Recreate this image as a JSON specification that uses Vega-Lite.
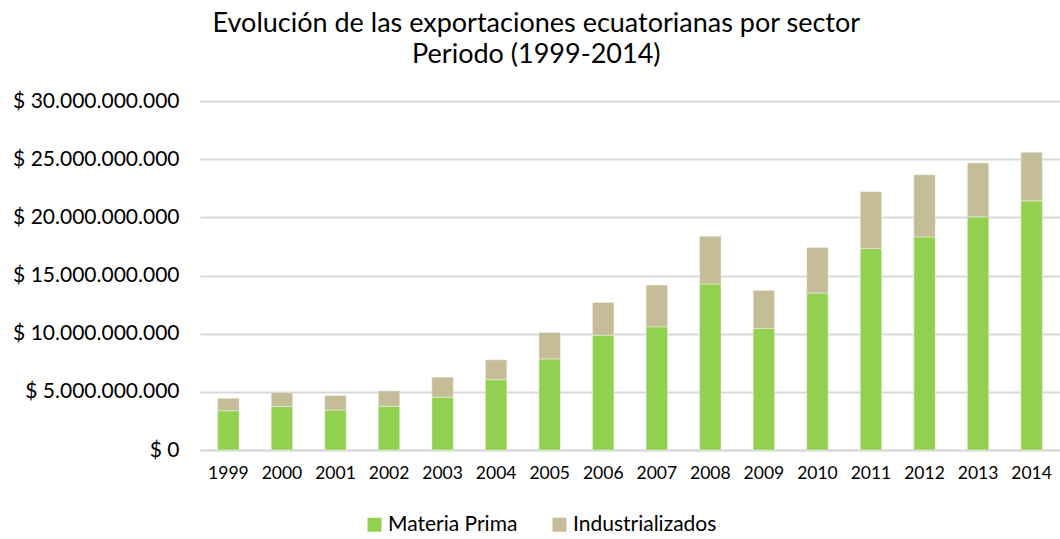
{
  "$schema": "https://vega.github.io/schema/vega-lite/v6.json",
  "width": 860,
  "height": 349,
  "autosize": {"type": "none"},
  "padding": {"left": 200, "right": 0, "top": 101, "bottom": 89},
  "background": "white",
  "config": {
    "font": "Lato",
    "view": {"stroke": null},
    "locale": {"number": {"decimal": ",", "thousands": ".", "grouping": [3], "currency": ["$ ", ""]}}
  },
  "title": {
    "text": ["Evolución de las exportaciones ecuatorianas por sector", "Periodo (1999-2014)"],
    "fontSize": 27,
    "fontWeight": "normal",
    "color": "#000000",
    "anchor": "middle",
    "frame": "bounds",
    "lineHeight": 31,
    "offset": 21
  },
  "data": {
    "values": [
      {"anio": "1999", "sector": "Materia Prima", "valor": 3380000000},
      {"anio": "1999", "sector": "Industrializados", "valor": 1070000000},
      {"anio": "2000", "sector": "Materia Prima", "valor": 3730000000},
      {"anio": "2000", "sector": "Industrializados", "valor": 1200000000},
      {"anio": "2001", "sector": "Materia Prima", "valor": 3440000000},
      {"anio": "2001", "sector": "Industrializados", "valor": 1240000000},
      {"anio": "2002", "sector": "Materia Prima", "valor": 3760000000},
      {"anio": "2002", "sector": "Industrializados", "valor": 1320000000},
      {"anio": "2003", "sector": "Materia Prima", "valor": 4530000000},
      {"anio": "2003", "sector": "Industrializados", "valor": 1730000000},
      {"anio": "2004", "sector": "Materia Prima", "valor": 6050000000},
      {"anio": "2004", "sector": "Industrializados", "valor": 1700000000},
      {"anio": "2005", "sector": "Materia Prima", "valor": 7830000000},
      {"anio": "2005", "sector": "Industrializados", "valor": 2270000000},
      {"anio": "2006", "sector": "Materia Prima", "valor": 9870000000},
      {"anio": "2006", "sector": "Industrializados", "valor": 2810000000},
      {"anio": "2007", "sector": "Materia Prima", "valor": 10590000000},
      {"anio": "2007", "sector": "Industrializados", "valor": 3590000000},
      {"anio": "2008", "sector": "Materia Prima", "valor": 14270000000},
      {"anio": "2008", "sector": "Industrializados", "valor": 4110000000},
      {"anio": "2009", "sector": "Materia Prima", "valor": 10450000000},
      {"anio": "2009", "sector": "Industrializados", "valor": 3270000000},
      {"anio": "2010", "sector": "Materia Prima", "valor": 13490000000},
      {"anio": "2010", "sector": "Industrializados", "valor": 3910000000},
      {"anio": "2011", "sector": "Materia Prima", "valor": 17310000000},
      {"anio": "2011", "sector": "Industrializados", "valor": 4890000000},
      {"anio": "2012", "sector": "Materia Prima", "valor": 18320000000},
      {"anio": "2012", "sector": "Industrializados", "valor": 5340000000},
      {"anio": "2013", "sector": "Materia Prima", "valor": 20040000000},
      {"anio": "2013", "sector": "Industrializados", "valor": 4630000000},
      {"anio": "2014", "sector": "Materia Prima", "valor": 21420000000},
      {"anio": "2014", "sector": "Industrializados", "valor": 4170000000}
    ]
  },
  "mark": {"type": "bar", "stroke": "#f2f0e6", "strokeWidth": 0.5},
  "encoding": {
    "x": {
      "field": "anio",
      "type": "nominal",
      "title": null,
      "scale": {"paddingInner": 0.6, "paddingOuter": 0.33},
      "axis": {
        "labelAngle": 0,
        "labelFontSize": 17.5,
        "labelColor": "#000000",
        "labelPadding": 14,
        "ticks": false,
        "domainColor": "#d9d9d9",
        "domainWidth": 2
      }
    },
    "y": {
      "field": "valor",
      "type": "quantitative",
      "stack": "zero",
      "title": null,
      "scale": {"domain": [0, 30000000000], "nice": false},
      "axis": {
        "values": [0, 5000000000, 10000000000, 15000000000, 20000000000, 25000000000, 30000000000],
        "format": "$,.0f",
        "labelFontSize": 21,
        "labelColor": "#000000",
        "labelPadding": 21,
        "ticks": false,
        "domain": false,
        "gridColor": "#d9d9d9",
        "gridWidth": 2
      }
    },
    "color": {
      "field": "sector",
      "type": "nominal",
      "scale": {"domain": ["Materia Prima", "Industrializados"], "range": ["#92d050", "#c4bd97"]},
      "legend": {
        "orient": "none",
        "legendX": 164,
        "legendY": 413,
        "direction": "horizontal",
        "title": null,
        "symbolType": "square",
        "symbolSize": 196,
        "symbolStrokeWidth": 0,
        "labelFontSize": 21,
        "labelColor": "#000000",
        "labelOffset": 3,
        "columnPadding": 31
      }
    },
    "order": {"field": "sector", "sort": "descending"}
  }
}
